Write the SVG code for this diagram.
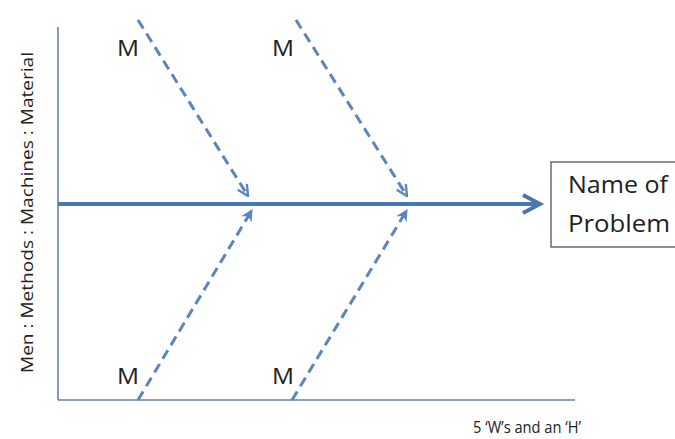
<svg xmlns="http://www.w3.org/2000/svg" width="675" height="439" viewBox="0 0 675 439">
<defs>
<style>
.axis{stroke:#6a819f;stroke-width:1.6;fill:none}
.spine{stroke:#4a76b0;stroke-width:4;fill:none}
.bone{stroke:#5a86bd;stroke-width:3;fill:none;stroke-dasharray:10 6}
.lbl{font-family:"Open Sans","Liberation Sans",sans-serif;fill:#222}
.m{font-size:21px}
</style>
<marker id="openV" viewBox="0 0 12 12" refX="11" refY="6" markerWidth="13" markerHeight="13" orient="auto" markerUnits="userSpaceOnUse">
<path d="M1,1 L11,6 L1,11" fill="none" stroke="#5a86bd" stroke-width="2.2"/>
</marker>
<marker id="fillV" viewBox="0 0 10 10" refX="9" refY="5" markerWidth="12" markerHeight="12" orient="auto" markerUnits="userSpaceOnUse">
<path d="M0,0 L10,5 L0,10 L3,5 Z" fill="#5a86bd"/>
</marker>
</defs>
<rect width="675" height="439" fill="#ffffff"/>
<g id="axes">
<line class="axis" x1="58" y1="27" x2="58" y2="400"/>
<line class="axis" x1="58" y1="400" x2="575" y2="400"/>
</g>
<g id="connectors">
<line class="spine" x1="58" y1="204" x2="539" y2="204"/>
<path class="spine" d="M523,195 L540,204 L523,213" stroke-linejoin="miter"/>
<line class="bone" x1="138" y1="20" x2="248" y2="196" marker-end="url(#openV)"/>
<line class="bone" x1="296" y1="20" x2="407" y2="196" marker-end="url(#openV)"/>
<line class="bone" x1="138" y1="400" x2="252" y2="210" marker-end="url(#fillV)"/>
<line class="bone" x1="292" y1="400" x2="407" y2="210" marker-end="url(#fillV)"/>
</g>
<g id="problem">
<rect x="551" y="162" width="130" height="85" fill="#ffffff" stroke="#555555" stroke-width="1.3"/>
<text class="lbl" x="568" y="193" font-size="24" textLength="100" lengthAdjust="spacingAndGlyphs">Name of</text>
<text class="lbl" x="568" y="232" font-size="24" textLength="102" lengthAdjust="spacingAndGlyphs">Problem</text>
</g>
<g id="m-top-1"><text class="lbl m" x="117" y="56" textLength="22" lengthAdjust="spacingAndGlyphs">M</text></g>
<g id="m-top-2"><text class="lbl m" x="272" y="56" textLength="22" lengthAdjust="spacingAndGlyphs">M</text></g>
<g id="m-bot-1"><text class="lbl m" x="117" y="384" textLength="22" lengthAdjust="spacingAndGlyphs">M</text></g>
<g id="m-bot-2"><text class="lbl m" x="272" y="384" textLength="22" lengthAdjust="spacingAndGlyphs">M</text></g>
<g id="y-label"><text class="lbl" transform="translate(33,373) rotate(-90)" x="0" y="0" font-size="17" textLength="321" lengthAdjust="spacingAndGlyphs">Men : Methods : Machines : Material</text></g>
<g id="x-label"><text class="lbl" x="473" y="433" font-size="17" textLength="108" lengthAdjust="spacingAndGlyphs">5 ‘W’s and an ‘H’</text></g>
</svg>
